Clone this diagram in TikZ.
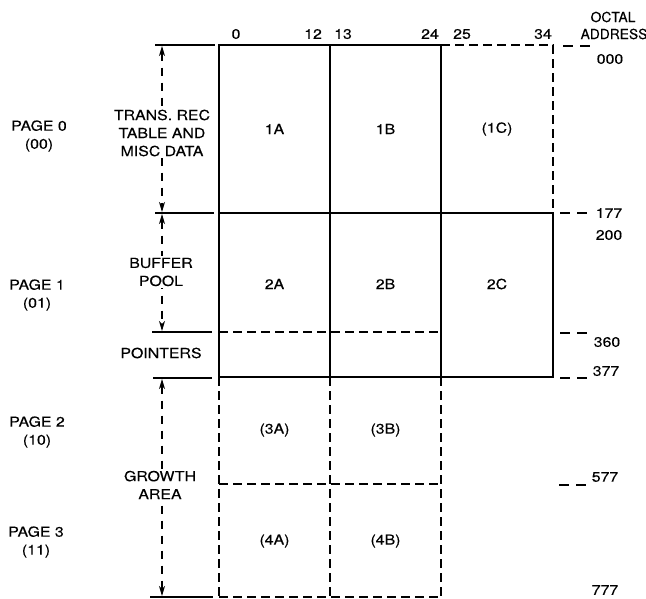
\documentclass[tikz,border=0pt]{standalone}
\usepackage{fontspec}
\setmainfont{TeX Gyre Heros}[FakeStretch=1.15,FakeBold=0.3]
\newfontfamily\narrowf{TeX Gyre Heros}[FakeBold=0.3]
\usetikzlibrary{arrows.meta}
\begin{document}
\begin{tikzpicture}[x=1pt,y=-1pt,
  every node/.style={font=\fontsize{13.8}{18}\selectfont, inner sep=0pt, align=center},
  solidline/.style={line width=1.6pt},
  dashline/.style={line width=1.6pt, dash pattern=on 9pt off 5pt},
  extline/.style={line width=1.3pt},
  tickline/.style={line width=1.4pt, dash pattern=on 10pt off 7pt},
  dimline/.style={line width=1.1pt, dash pattern=on 8pt off 7pt,
    {Stealth[length=10pt,width=6pt,inset=3pt]}-{Stealth[length=10pt,width=6pt,inset=3pt]}},
  lbl/.style={fill=white, inner sep=2pt}]
\useasboundingbox (0,0) rectangle (646,598);

% boxes
\draw[solidline] (219,45) rectangle (441,213);
\draw[solidline] (219,213) rectangle (553,377);
\draw[solidline] (330,45) -- (330,377);
\draw[solidline] (441,45) -- (441,377);
\draw[dashline] (441,45) -- (553,45) -- (553,213);
\draw[dashline] (219,332) -- (441,332);
\draw[dashline] (219,377) -- (219,597);
\draw[dashline] (330,377) -- (330,597);
\draw[dashline] (441,377) -- (441,597);
\draw[dashline] (219,484) -- (441,484);
\draw[dashline] (219,597) -- (441,597);

% extension lines
\draw[extline] (155,45) -- (215,45);
\draw[extline] (155,213) -- (214,213);
\draw[extline] (152,332) -- (212,332);
\draw[extline] (153,378) -- (212,378);
\draw[extline] (150,597) -- (213,597);

% dimension arrows
\draw[dimline] (162,46) -- (162,212);
\draw[dimline] (162,214) -- (162,331);
\draw[dimline] (162,379) -- (162,596);

\node[lbl] (trans) at (162,133) {TRANS. REC\\TABLE AND\\MISC DATA};
\node[lbl] (buffer) at (161,272) {BUFFER\\POOL};
\node (pointers) at (161,353) {POINTERS};
\node[lbl] (growth) at (160,485) {GROWTH\\AREA};

% page labels
\node (p0) at (39,136) {PAGE 0\\(00)};
\node (p1) at (37,295) {PAGE 1\\(01)};
\node (p2) at (37,432) {PAGE 2\\(10)};
\node (p3) at (36,542) {PAGE 3\\(11)};

% cell labels
\node (c1a) at (274.5,129) {1A};
\node (c1b) at (385.5,129) {1B};
\node (c1c) at (497,129) {(1C)};
\node (c2a) at (274.5,284) {2A};
\node (c2b) at (385.5,284) {2B};
\node (c2c) at (497,284) {2C};
\node (c3a) at (274.5,430) {(3A)};
\node (c3b) at (385.5,430) {(3B)};
\node (c4a) at (274.5,541) {(4A)};
\node (c4b) at (385.5,541) {(4B)};

% column header
\node (h0) at (236,34) {0};
\node (h12) at (313,34) {12};
\node (h13) at (343,34) {13};
\node (h24) at (430,34) {24};
\node (h25) at (462,34) {25};
\node (h34) at (543,34) {34};
\node[font=\narrowf\fontsize{13.8}{18}\selectfont] (octal) at (613,17) {OCTAL};
\node[font=\narrowf\fontsize{13.8}{18}\selectfont] (address) at (614,34) {ADDRESS};

% right address ticks
\draw[tickline] (563,46) -- (591,46);
\draw[tickline] (560,213) -- (588,213);
\draw[tickline] (560,333) -- (588,333);
\draw[tickline] (560,378) -- (588,378);
\draw[tickline] (559,485) -- (587,485);

\node (a000) at (610,59) {000};
\node (a177) at (609,213) {177};
\node (a200) at (609,235) {200};
\node (a360) at (607,342) {360};
\node (a377) at (606,371) {377};
\node (a577) at (605,477) {577};
\node (a777) at (605,590) {777};
\end{tikzpicture}
\end{document}
